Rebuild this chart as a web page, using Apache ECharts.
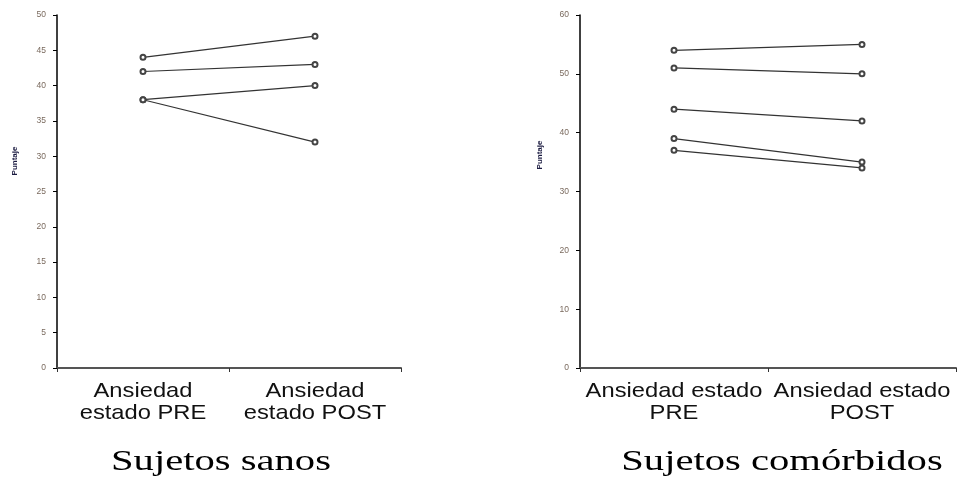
<!DOCTYPE html>
<html>
<head>
<meta charset="utf-8">
<script src="https://cdn.jsdelivr.net/npm/echarts@6/dist/echarts.min.js"></script>
<style>
html,body{margin:0;padding:0;background:#fff;}
#c{width:959px;height:487px;}
</style>
</head>
<body>
<div id="c"></div>
<script>
// ---- data ----
var categoriesSanos = ['Ansiedad\nestado PRE', 'Ansiedad\nestado POST'];
var categoriesComorb = ['Ansiedad estado\nPRE', 'Ansiedad estado\nPOST'];
var sanosPre = [44, 42, 38, 38];
var sanosPost = [47, 43, 40, 32];
var comorbPre = [54, 51, 44, 39, 37];
var comorbPost = [55, 50, 42, 35, 34];
var titleSanos = 'Sujetos sanos';
var titleComorb = 'Sujetos comórbidos';
var yName = 'Puntaje';

var lineColor = '#333';
function mkSeries(pre, post, idx) {
  return pre.map(function (v, i) {
    return {
      type: 'line',
      xAxisIndex: idx, yAxisIndex: idx,
      data: [v, post[i]],
      symbol: 'emptyCircle', symbolSize: 5,
      showSymbol: true, showAllSymbol: true,
      lineStyle: { color: lineColor, width: 1.2 },
      itemStyle: { color: '#444', borderColor: '#444', borderWidth: 1.2 },
      emphasis: { disabled: true },
      animation: false,
      z: 3
    };
  });
}

function yAxis(idx, max, interval) {
  return {
    type: 'value', gridIndex: idx, min: 0, max: max, interval: interval,
    axisLine: { show: true, lineStyle: { color: '#000', width: 1.5 } },
    axisTick: { show: true, length: 4, lineStyle: { color: '#000', width: 1 } },
    axisLabel: { fontFamily: 'Liberation Sans', fontSize: 8.5, color: '#7a6a5e', margin: 11 },
    splitLine: { show: false }
  };
}
function xAxis(idx, cats) {
  return {
    type: 'category', gridIndex: idx, data: cats, boundaryGap: true,
    axisLine: { show: true, lineStyle: { color: '#555', width: 2 } },
    axisTick: { show: true, length: 4, alignWithLabel: false, lineStyle: { color: '#333', width: 1 } },
    axisLabel: { show: false },
    splitLine: { show: false }
  };
}

var chart = echarts.init(document.getElementById('c'), null, { renderer: 'canvas' });
var option = {
  animation: false,
  backgroundColor: '#fff',
  grid: [
    { left: 57, top: 15, width: 344, height: 353 },
    { left: 580, top: 15, width: 376, height: 353 }
  ],
  xAxis: [xAxis(0, categoriesSanos), xAxis(1, categoriesComorb)],
  yAxis: [yAxis(0, 50, 5), yAxis(1, 60, 10)],
  series: mkSeries(sanosPre, sanosPost, 0).concat(mkSeries(comorbPre, comorbPost, 1))
};
chart.setOption(option);

// category labels and titles, positioned through the library's scales
var graphics = [];
function addCatLabels(idx, cats) {
  cats.forEach(function (c, i) {
    var px = chart.convertToPixel({ xAxisIndex: idx }, i);
    graphics.push({
      type: 'text', x: px, y: 380, scaleX: 1.13,
      style: { text: c, font: '21px "Liberation Sans", Arial, sans-serif', fill: '#111',
               textAlign: 'center', textVerticalAlign: 'top', lineHeight: 22 }
    });
  });
}
addCatLabels(0, categoriesSanos);
addCatLabels(1, categoriesComorb);

function addTitle(idx, text) {
  var a = chart.convertToPixel({ xAxisIndex: idx }, 0);
  var b = chart.convertToPixel({ xAxisIndex: idx }, 1);
  var cx = idx === 0 ? (a + b) / 2 - 8 : (a + b) / 2 + 14;
  graphics.push({
    type: 'text', x: cx, y: 448, scaleX: 1.4,
    style: { text: text, font: '29px "Liberation Serif", "Times New Roman", serif', fill: '#000',
             textAlign: 'center', textVerticalAlign: 'top' }
  });
}
addTitle(0, titleSanos);
addTitle(1, titleComorb);

function addYName(x, y) {
  graphics.push({
    type: 'text', x: x, y: y, rotation: Math.PI / 2, scaleX: 1,
    style: { text: yName, font: 'bold 8px "Liberation Sans", Arial, sans-serif', fill: '#1a1a40',
             textAlign: 'center', textVerticalAlign: 'middle' }
  });
}
addYName(15, 161);
addYName(540, 155);

chart.setOption({ graphic: graphics });
</script>
</body>
</html>
